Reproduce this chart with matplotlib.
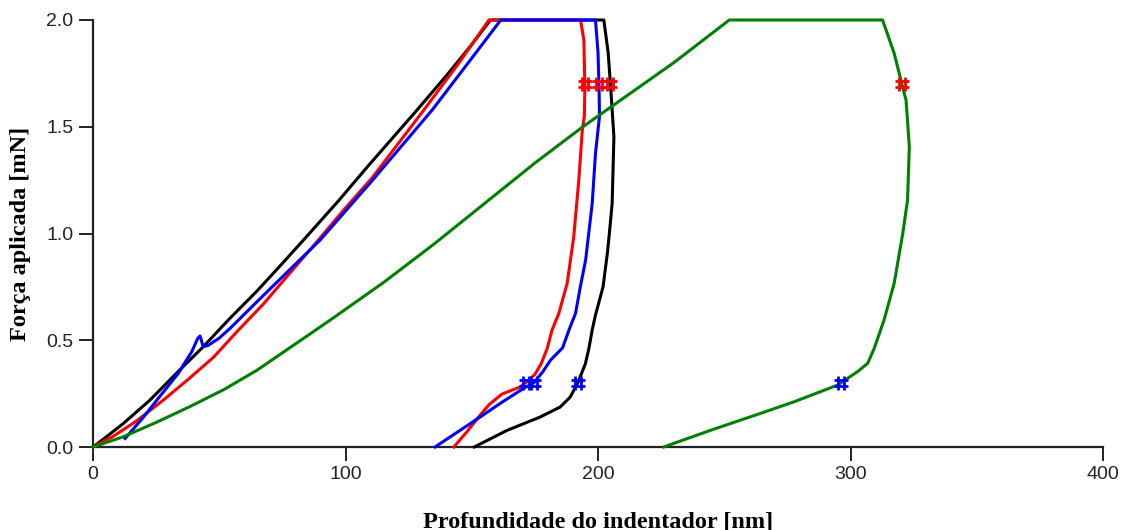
import numpy as np
import matplotlib
matplotlib.use("Agg")
import matplotlib.pyplot as plt
from matplotlib.path import Path

# Indentation curves: loading branch and unloading branch (depth in nm, force in mN)
black_load_depth = [0, 5, 12, 22.6, 33, 43.7, 54, 64.9, 75, 83.4, 97, 108.5, 128.3, 140, 150, 157.4]
black_load_force = [0, 0.045, 0.11, 0.22, 0.345, 0.47, 0.60, 0.73, 0.86, 0.97, 1.15, 1.31, 1.578, 1.74, 1.885, 2.0]
black_unload_depth = [202.3, 204, 205, 206.3, 205.6, 204.5, 203.7, 202, 199.0, 197.7, 196.4, 195, 192, 189, 185, 177, 164, 151]
black_unload_force = [2.0, 1.85, 1.688, 1.453, 1.14, 1.0, 0.907, 0.75, 0.618, 0.548, 0.462, 0.39, 0.30, 0.234, 0.187, 0.14, 0.078, 0.0]

red_load_depth = [0, 8, 17, 27.9, 38, 47.7, 57, 67.5, 78, 89.3, 100, 110.5, 131, 145, 156.8]
red_load_force = [0, 0.05, 0.12, 0.22, 0.32, 0.42, 0.54, 0.67, 0.815, 0.97, 1.12, 1.26, 1.578, 1.80, 2.0]
red_unload_depth = [193.1, 194.4, 194.8, 194.6, 193.8, 192.4, 190.4, 187.8, 184.5, 181.8, 179.9, 177.5, 175, 171.3,
                    169, 165, 162, 157, 152.8, 148, 142.9]
red_unload_force = [2.0, 1.906, 1.688, 1.55, 1.485, 1.25, 0.985, 0.767, 0.626, 0.548, 0.462, 0.39, 0.34, 0.30,
                    0.28, 0.262, 0.248, 0.20, 0.142, 0.07, 0.0]

blue_load_depth = [12.7, 16, 20, 27, 33.8, 35.8, 39.1, 41.5, 42.4, 42.8, 43.6, 45.5, 50, 54.3, 64.9, 77, 90,
                   110, 134.3, 148, 161.5]
blue_load_force = [0.04, 0.085, 0.14, 0.245, 0.345, 0.384, 0.446, 0.509, 0.52, 0.505, 0.47, 0.475, 0.51, 0.556,
                   0.68, 0.82, 0.97, 1.24, 1.578, 1.79, 2.0]
blue_unload_depth = [199.0, 200.0, 200.4, 200.6, 199.0, 197.7, 195.1, 193, 191.1, 188.5, 186, 181.2, 178, 174.5,
                     170.6, 162, 153.5, 145, 137.6, 135.5]
blue_unload_force = [2.0, 1.85, 1.688, 1.55, 1.375, 1.14, 0.876, 0.75, 0.626, 0.548, 0.465, 0.407, 0.35, 0.30,
                     0.275, 0.21, 0.142, 0.075, 0.017, 0.0]

green_load_depth = [0, 12, 25, 38.5, 52, 65, 86, 94, 115, 135, 155, 175, 194, 206, 230, 252]
green_load_force = [0, 0.048, 0.115, 0.19, 0.27, 0.36, 0.53, 0.595, 0.77, 0.95, 1.14, 1.33, 1.50, 1.60, 1.80, 2.0]
green_unload_depth = [312.7, 317.3, 320.6, 322, 323.3, 322.6, 320.7, 317.3, 313.3, 309.4, 306.8, 302.8, 294.9,
                      277.7, 264.5, 245, 226]
green_unload_force = [2.0, 1.844, 1.688, 1.625, 1.407, 1.157, 1.0, 0.767, 0.595, 0.462, 0.392, 0.353, 0.29,
                      0.212, 0.158, 0.08, 0.0]

upper_fit_force = 1.7
lower_fit_force = 0.3

x_ticks = [0, 100, 200, 300, 400]
y_ticks = [0.0, 0.5, 1.0, 1.5, 2.0]

curves = [
    ("#000000", black_load_depth, black_load_force, black_unload_depth, black_unload_force),
    ("#ff0000", red_load_depth, red_load_force, red_unload_depth, red_unload_force),
    ("#0000ff", blue_load_depth, blue_load_force, blue_unload_depth, blue_unload_force),
    ("#008000", green_load_depth, green_load_force, green_unload_depth, green_unload_force),
]

# hash-shaped marker: two vertical and two horizontal strokes
hash_verts = [(-0.35, -1), (-0.35, 1), (0.35, -1), (0.35, 1),
              (-1, -0.35), (1, -0.35), (-1, 0.35), (1, 0.35)]
hash_codes = [Path.MOVETO, Path.LINETO] * 4
hash_marker = Path(hash_verts, hash_codes)

fig = plt.figure(figsize=(11.22, 5.30), dpi=100)
ax = fig.add_axes([93 / 1122, 83 / 530, 1010 / 1122, 427 / 530])

for color, ld, lf, ud, uf in curves:
    depth = list(ld) + list(ud)
    force = list(lf) + list(uf)
    ax.plot(depth, force, color=color, lw=2.2, clip_on=False, zorder=3,
            solid_joinstyle="round")

# fit-range markers on each unloading branch
for color, ld, lf, ud, uf in curves:
    f = np.asarray(uf)[::-1]
    d = np.asarray(ud)[::-1]
    x_hi = np.interp(upper_fit_force, f, d)
    x_lo = np.interp(lower_fit_force, f, d)
    ax.plot([x_hi], [upper_fit_force], ls="none", marker=hash_marker, ms=10.5,
            mec="#ff0000", mew=2.0, zorder=5)
    ax.plot([x_lo], [lower_fit_force], ls="none", marker=hash_marker, ms=10.5,
            mec="#0000ff", mew=2.0, zorder=5)

ax.set_xlim(0, 400)
ax.set_ylim(0, 2.0)
ax.set_xticks(x_ticks)
ax.set_yticks(y_ticks)
ax.set_xticklabels([str(t) for t in x_ticks])
ax.set_yticklabels([f"{t:.1f}" for t in y_ticks])

for side in ("top", "right"):
    ax.spines[side].set_visible(False)
for side in ("left", "bottom"):
    ax.spines[side].set_linewidth(1.6)
    ax.spines[side].set_color("#222222")

ax.tick_params(direction="out", length=10, width=1.4, color="#222222",
               labelsize=14, pad=4)
for lab in ax.get_xticklabels() + ax.get_yticklabels():
    lab.set_fontfamily("Liberation Sans")
    lab.set_color("#222222")

label_font = dict(fontfamily="Liberation Serif", fontweight="bold", fontsize=17.5)
ax.set_xlabel("Profundidade do indentador [nm]", **label_font)
ax.set_ylabel("Força aplicada [mN]", **label_font)
ax.xaxis.set_label_coords(0.5, -0.15)
ax.yaxis.set_label_coords(-0.061, 0.5)

fig.savefig("out.png", dpi=100)
